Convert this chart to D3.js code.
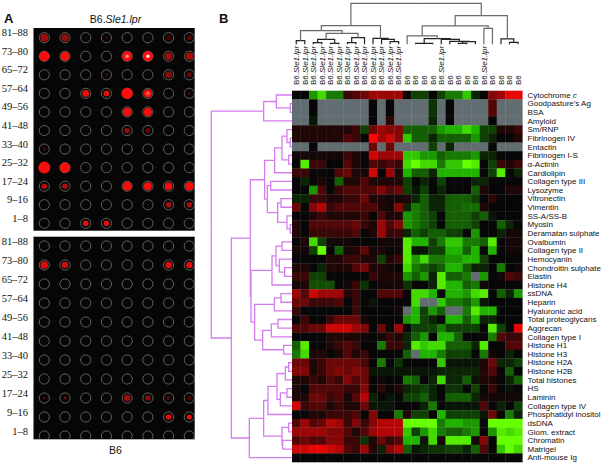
<!DOCTYPE html>
<html>
<head>
<meta charset="utf-8">
<script src="https://d3js.org/d3.v7.min.js"></script>
<style>
    html, body { margin: 0; padding: 0; background: #fff; }
    svg { display: block; }
    text { font-family: "Liberation Sans", Arial, sans-serif; fill: #111; }
    .slide { font-family: "Liberation Serif", serif; font-size: 10.5px; }
</style>
</head>
<body>
<svg width="603" height="466"></svg>
<script>

// panel A
var slideRows = ["81–88", "73–80", "65–72", "57–64", "49–56", "41–48", "33–40", "25–32", "17–24", "9–16", "1–8"];
var slideCols = [0, 1, 2, 3, 4, 5, 6, 7];

// spot = [row, col, size, intensity]
var spotsTop = [
  [0,0,4,.6],[0,1,3.8,.55],[0,2,1,.25],[0,3,1.2,.25],[0,5,1,.25],[0,6,2.5,.2],[0,7,2.5,.3],
  [1,0,5,1],[1,1,4.5,1],[1,4,5,1.1],[1,5,5,1.15],[1,6,3.8,.6],[1,7,3.8,.6],
  [2,3,.7,.6],[2,6,3.5,.5],[2,7,2.5,.4],
  [3,2,3.4,.95],[3,3,3,.9],[3,4,5.6,1],[3,5,4.2,1.05],[3,7,1,.6],
  [4,4,4.2,1],[4,5,4.2,1],
  [5,4,2.8,.55],[5,5,2.4,.4],
  [6,0,1.5,.3],
  [7,0,6,1],[7,1,5.2,1],
  [8,0,2.8,.7],[8,1,2.8,.7],[8,4,4.5,1],[8,5,4,1],[8,6,3.8,1],[8,7,4.2,1],
  [9,5,.8,.5],[9,6,2.8,.65],[9,7,2.8,.6],
  [10,2,2.8,.9],[10,3,2.8,.9]
];
var spotsBottom = [
  [0,3,.7,.3],
  [1,0,3.8,.85],[1,1,3.2,.8],[1,6,3.2,.9],[1,7,3.2,.9],
  [6,6,.7,.3],[6,7,.7,.3],
  [8,0,1,.5],[8,1,1.4,.5],[8,4,3.2,.6],[8,5,2.8,.5],[8,6,2,.3],[8,7,2,.3],
  [9,6,2.8,.9],[9,7,2.6,.9]
];

// panel B
var heatRows = ["Cytochrome c", "Goodpasture's Ag", "BSA", "Amyloid", "Sm/RNP", "Fibrinogen IV", "Entactin",
  "Fibrinogen I-S", "α-Actinin", "Cardiolipin", "Collagen type III", "Lysozyme", "Vitronectin", "Vimentin",
  "SS-A/SS-B", "Myosin", "Deramatan sulphate", "Ovalbumin", "Collagen type II", "Hemocyanin",
  "Chondroitin sulphate", "Elastin", "Histone H4", "ssDNA", "Heparin", "Hyaluronic acid", "Total proteoglycans",
  "Aggrecan", "Collagen type I", "Histone H1", "Histone H3", "Histone H2A", "Histone H2B", "Total histones",
  "HS", "Laminin", "Collagen type IV", "Phosphatidyl inositol", "dsDNA", "Glom. extract", "Chromatin",
  "Matrigel", "Anti-mouse Ig"];

var heatCols = ["S","S","S","S","S","S","S","S","S","S","S","S","S",
  "B","B","B","B","S","B","B","B","B","S","B","B","B","B"];

var heatValues = [
  [0,0,-5,-8,-4,-4,2,3,4,6,6,6,6,0,-2,-2,0,-2,-4,-4,-7,-1,0,5,6,9,9],
  [null,null,0,null,null,null,null,null,null,0,null,0,null,null,null,null,-1.5,null,0,null,null,null,null,3,null,null,null],
  [null,null,0,null,null,null,null,null,null,0,null,0,null,null,null,null,-1.5,null,0,null,null,null,null,3,null,null,null],
  [null,null,-.5,null,null,null,null,null,null,0,null,1.5,null,null,null,null,-1,null,0,null,null,null,null,0,null,null,null],
  [1,1,1,1,1,1,1,2,-2,4,6,5,5,-3,-3,-3,-3,-5,-6,-6,-8,-6,-2,-2,1,1,2],
  [1,1,1,1,1,1,3,2,0,10,6,8,5,-7,-3,-3,-1,-3,-3,-3,-3,-5,-2,-1,0,0,1],
  [null,null,0,null,null,null,null,null,null,4,null,4,null,null,null,null,-2,null,-1,null,null,null,null,0,null,null,null],
  [.5,.5,.5,.5,.5,.5,2,1,0,8,6,6,6,-7,-7,-5,-5,-3,-4,-4,-4,-5,-1,-1,0,0,0],
  [0,-9,2,2,0,0,3,1,0,3,2,3,2,-8,-10,-8,-8,-4,-7,-7,-10,-9,0,-2,2,1,2],
  [2,2,0,0,0,3,4,1,.5,8,0,6,1,-6,-3,-3,-1,-6,-6,-6,-6,-6,0,-2,-9,0,-1],
  [0,-1,0,1,0,-3,1,1,3,1,1,1,1,-2,0,-1,0,-2,0,0,0,-1,-1,0,0,0,0],
  [0,0,-5,3,0,2,3,3,3,3,5,3,4,-2,-.5,-2,0,-1,0,0,0,-3,1,0,0,1,1],
  [-1,-1,2,2,1,1,2,2,4,1,1,.5,.5,1,-1,-3,-1,-1,-3,-3,-3,-2,0,1.5,0,0,0],
  [4,0,5,7,2,3,3,3,3,3,1,.5,5,-1,-4,-3,-1,-1,-3,-3,-3.5,-3.5,1,0,0,0,0],
  [0,0,1,2,1,1,1,1,2,0,3,1,1,-5,-4,-3,-2,0,-3,-3,-3,-2,-3,-.5,0,0,0],
  [1,0,3,3,3,3,3,4,2,1,6,3,5,-5,-4,-3,-2,0,-3,-3,-3,-2,0,0,-3,-1,0],
  [1,0,2,2,2,2,2,3,0,1,6,2,2,-1,-3,-2,-3,-3,-2,-2,0,-5,0,0,-1,.5,.5],
  [0,1,-8,-2,.5,.5,.5,0,0,0,.5,.5,.5,-9,-6,-6,-2,-4,-7,-7,-4,-4,-3,-9,0,.5,.5],
  [.5,.5,-2,-10,0,-3,.5,1,3.5,.5,1,0,.5,-9,-.5,-.5,-2,-2,-6,-6,-3,-6,0,-6,0,.5,.5],
  [0,0,0,0,1,1,2,2,1,1,-2,1,2,-9,-5,-8,-4,-4,-5,-5,-6,-6,-2,0,0,0,0],
  [1,1,0,-1,1,1,1,3,4.5,1,1,.5,0,-8,-4,-3,-2,-3,-6,-6,-3,-1,-1,0,-4,0,.5],
  [2,2,-2,-2,0,0,0,0,0,2,1,1,1,-5,-3,-5,-1,-9,-3,-3,-4,null,-5,0,.5,3,2],
  [.5,1,-2.5,-2.5,-2.5,0,.5,2,-1.5,0,.5,.5,.5,-1.5,0,0,-1,-9,-6,-6,-3,-4,.5,0,0,0,0],
  [6,3,8,6,6,6,1,2,0,0,3,3,3,0,-8,-8,-6,0,-6,-6,-5,-8,-9,0,-3,-1,-5],
  [4,4,2,2,2,3,0,2,0,-.5,0,0,0,0,-8,null,null,-7,-4,-4,-3,-5,-.5,0,0,0,0],
  [2,0,0,0,0,0,0,2,0,0,0,0,.5,null,-6,-2,-5,-3,null,null,-4,-9,-6,-6,0,0,0],
  [0,2,0,0,2,4,4,4,.5,0,0,0,0,-5,-6,-2,-1,0,-6,-6,-3,-6,-1,-1,0,0,0],
  [3,3,4,4,8,8,8,6,5,0,4,0,6,0,-2,-2,-2,-4,-2,-2,-2,-2,0,-9,-2,0,9],
  [0,0,0,0,1,1,1,1,.5,0,.5,2,1,-1,-3,-5,0,-6,-6,-3,0,0,0,-4,3,2,2],
  [-3,-9,0,0,1,2,3,2,0,0,-4,2,2,-1,-9,-7,-8,-8,-3,-3,-3,-1,-9,0,0,3,3],
  [-4,-8,1,1,0,1,3,1,2,0,0,0,0,-3,null,-6,-6,-4,-2,-2,-2,0,-4,.5,0,-1,0],
  [4,4,1,2,4,4,4,4,2.5,0,-4,0,-1.5,0,0,0,0,-7,-.5,-.5,-.5,-.5,1,4,-1,-1,-2],
  [5,5,1,2,4,5,4,5,4,-.5,-.5,-.5,-.5,-.5,-.5,-.5,-.5,-1,-1,-1,-1,-1,1,3,0,-3,0],
  [1,1,2,1,3,2,5,3,4,0,.5,0,0,-4,-3,0,-1,-8,-1,-1,-3,-.5,1,1,0,-1,-3],
  [1,0,3,3,3,3,2,2,5,0,1.5,0,1,-1,-1.5,-2,-1,0,-1.5,-1.5,0,-2,0,2,0,-.5,0],
  [1,1,4,4,2,3,.5,3,7,-1,0,-.5,0,-2,-2,-3,-1,0,-3,-3,-3,-1,.5,.5,.5,.5,.5],
  [8,2,3,3,1,2,1,1,4,-.5,-.5,-.5,0,0,0,-1,-4,0,-.5,-.5,-.5,-.5,3,0,-1,0,-2],
  [0,0,1,1,2,2,2,3,0,5,0,0,-4,1,-2,-2,0,-6,-2,-2,-2,-2,-.5,4,0,-4,-1],
  [3,6,3,4,7,6,2,5,2,5,7,7,7,-10,-10,-10,-10,-4,-6,-6,-5,-5,0,-10,-10,-10,-10],
  [6,6,6,6,5,5,3,1,3,6,7,7,7,-7,-2,-5,-8,-4,-3,-3,-4,-5,0,-5,-9,-8,-9],
  [3,4,3,3,5,5,2,2,-1.5,1,4,2,3,-6,-6,-.5,-8,.5,-9,-9,-9,.5,5,0,-10,-10,-10],
  [8,8,9,9,8,7,3,2,6,1,-1,5,7,-3,-.5,-1,-1.5,-1.5,-2,-2,-1,-3,3,0,-7,-10,-8],
  [0,0,0,0,0,0,0,0,0,0,0,0,0,0,0,0,0,0,0,0,0,0,0,0,0,0,0]
];

// trees: [height, child, child...], a plain number is a leaf index
var colTree = [123,
  [56,
    [41, [11, 0, 1],
      [33, [15, [5, 2, 3], [3, 4, 5]], [20, [5, 6, 7], 8]]],
    [18, 9, [15, 10, [8, 11, 12]]]],
  [86,
    [55,
      [25, 13, [17, [3, 14, 15, 16], [15, 17, [9, 18, [8, [3, 19, 20], 21]]]]],
      [48, 22, 23]],
    [16, 24, [6, 25, 26]]]
];

var rowTree = [242,
  [85, [47, 0, [5, 1, 2]], 3],
  [182,
    [125,
      [82,
        [52, [30, [15, 4, [5, 5, 6]], [10, 7, 8]], 9],
        [74, [64, 10, 11], [43, [33, 12, 13], [15, 14, [5, 15, 16]]]]],
      [123,
        [60, [48, [30, 17, 18], [38, 19, [22, 20, 21]]], 22],
        [112,
          [53, [33, 23, 24], 25],
          [88, [62, [42, 26, 27], 28], [25, 29, 30]]]]],
    [128,
      [85,
        [72, [45, [20, [10, 31, 32], 33], [35, [15, 34, 35], 36]], 37],
        [30, [10, 38, 39], [28, 40, 41]]],
      42]]
];

var svg = d3.select("svg");
var defs = svg.append("defs");

// ---- panel A ----
var slides = [
  { top: 28, bottom: 230.7, spots: spotsTop, cy0: 37.7, cy1: 223.3 },
  { top: 236.7, bottom: 439.3, spots: spotsBottom, cy0: 246, cy1: 436 }
];

var slideX = d3.scalePoint().domain(slideCols).range([44.3, 189.3]);
var spotColor = d3.scaleLinear().domain([0, 1, 1.15]).range(["#180000", "#fa0f0f", "#ffd8d8"]).clamp(true);

defs.append("filter").attr("id", "soft")
  .append("feGaussianBlur").attr("stdDeviation", 0.5);

slides.forEach(function(s, k) {
  var y = d3.scalePoint().domain(d3.range(slideRows.length)).range([s.cy0, s.cy1]);
  var g = svg.append("g");

  // the last ring row runs off the bottom slide
  defs.append("clipPath").attr("id", "slide" + k)
    .append("rect")
    .attr("x", 33.5).attr("y", s.top)
    .attr("width", 161.2).attr("height", s.bottom - s.top);

  g.append("rect")
    .attr("x", 33.5).attr("y", s.top)
    .attr("width", 161.2).attr("height", s.bottom - s.top)
    .attr("fill", "#060606");

  var rings = [];
  slideRows.forEach(function(r, i) {
    slideCols.forEach(function(c) { rings.push([i, c]); });
  });
  g.append("g").attr("clip-path", "url(#slide" + k + ")")
    .selectAll("circle").data(rings).join("circle")
    .attr("cx", function(d) { return slideX(d[1]); })
    .attr("cy", function(d) { return y(d[0]); })
    .attr("r", 5.1)
    .attr("fill", "none")
    .attr("stroke", "#7f8680")
    .attr("stroke-width", 0.7);

  g.selectAll("circle.spot").data(s.spots).join("circle")
    .attr("class", "spot")
    .attr("cx", function(d) { return slideX(d[1]); })
    .attr("cy", function(d) { return y(d[0]); })
    .attr("r", function(d) { return d[2]; })
    .attr("fill", function(d) { return spotColor(Math.min(d[3], 1)); })
    .attr("filter", "url(#soft)");

  // hot centres
  g.selectAll("circle.hot").data(s.spots.filter(function(d) { return d[3] > 1; })).join("circle")
    .attr("class", "hot")
    .attr("cx", function(d) { return slideX(d[1]); })
    .attr("cy", function(d) { return y(d[0]); })
    .attr("r", 1.8)
    .attr("fill", function(d) { return spotColor(d[3]); })
    .attr("filter", "url(#soft)");

  g.selectAll("text").data(slideRows).join("text")
    .attr("class", "slide")
    .attr("x", 28)
    .attr("y", function(d, i) { return y(i) - 1.5 ; })
    .attr("text-anchor", "end")
    .text(function(d) { return d; });
});

var title = svg.append("text").attr("x", 115.5).attr("y", 22.5)
  .attr("text-anchor", "middle").attr("font-size", 10.5);
title.append("tspan").text("B6.");
title.append("tspan").attr("font-style", "italic").text("Sle1.lpr");

svg.append("text").attr("x", 115.5).attr("y", 454)
  .attr("text-anchor", "middle").attr("font-size", 10.5).text("B6");

svg.append("text").attr("x", 4).attr("y", 22.5).attr("font-size", 13).attr("font-weight", "bold").text("A");
svg.append("text").attr("x", 219).attr("y", 22.5).attr("font-size", 13).attr("font-weight", "bold").text("B");

// ---- panel B heat map ----
var x = d3.scaleBand().domain(d3.range(heatCols.length)).range([292, 522.3]);
var y = d3.scaleBand().domain(d3.range(heatRows.length)).range([90.7, 462]);

var color = d3.scaleLinear()
  .domain([-10, -6, 0, 10])
  .range(["#66ff00", "#20b400", "#070707", "#ff0606"]);

var cells = [];
heatValues.forEach(function(row, r) {
  row.forEach(function(v, c) { cells.push({ r: r, c: c, v: v }); });
});

svg.append("g").selectAll("rect").data(cells).join("rect")
  .attr("x", function(d) { return x(d.c); })
  .attr("y", function(d) { return y(d.r); })
  .attr("width", x.bandwidth() + 0.3)
  .attr("height", y.bandwidth() + 0.3)
  .attr("fill", function(d) { return d.v === null ? "#626d72" : color(d.v); });

var rowLabels = svg.append("g").selectAll("text").data(heatRows).join("text")
  .attr("x", 527.5)
  .attr("y", function(d, i) { return y(i) + y.bandwidth() / 2 + 2.8; })
  .attr("font-size", 8)
  .text(function(d) { return d == "Cytochrome c" ? "Cytochrome " : d; });
rowLabels.filter(function(d) { return d == "Cytochrome c"; })
  .append("tspan").attr("font-style", "italic").text("c");

var colLabels = svg.append("g").selectAll("text").data(heatCols).join("text")
  .attr("transform", function(d, i) { return "translate(" + (x(i) + x.bandwidth() / 2 + 2.8) + ",85) rotate(-90)"; })
  .attr("font-size", 8);
colLabels.append("tspan").text(function(d) { return d == "S" ? "B6." : "B6"; });
colLabels.filter(function(d) { return d == "S"; })
  .append("tspan").attr("font-style", "italic").text("Sle1.lpr");

// ---- dendrograms ----
function collect(node, pos, links) {
  if (typeof node == "number") return { h: 0, p: pos(node) };
  var kids = node.slice(1).map(function(k) { return collect(k, pos, links); });
  var p = (kids[0].p + kids[kids.length - 1].p) / 2;
  kids.forEach(function(k) { links.push({ h0: k.h, p0: k.p, h1: node[0], p1: p }); });
  return { h: node[0], p: p };
}

var colH = d3.scaleLinear().domain([0, 123]).range([44.3, 3.3]);
var colLinks = [];
collect(colTree, function(i) { return x(i) + x.bandwidth() / 2; }, colLinks);

svg.append("g").selectAll("path").data(colLinks).join("path")
  .attr("d", function(d) {
    var p = d3.path();
    p.moveTo(d.p0, colH(d.h0));
    p.lineTo(d.p0, colH(d.h1));
    p.lineTo(d.p1, colH(d.h1));
    return p.toString();
  })
  .attr("fill", "none")
  .attr("stroke", function(d) { return d.h1 > 24 ? "#6a6a6a" : "#222"; })
  .attr("stroke-width", 1.2);

var rowH = d3.scaleLinear().domain([0, 242]).range([292, 211.3]);
var rowLinks = [];
collect(rowTree, function(i) { return y(i) + y.bandwidth() / 2; }, rowLinks);

svg.append("g").selectAll("path").data(rowLinks).join("path")
  .attr("d", function(d) {
    var p = d3.path();
    p.moveTo(rowH(d.h0), d.p0);
    p.lineTo(rowH(d.h1), d.p0);
    p.lineTo(rowH(d.h1), d.p1);
    return p.toString();
  })
  .attr("fill", "none")
  .attr("stroke", "#d67cee")
  .attr("stroke-width", 1.3);

</script>
</body>
</html>
